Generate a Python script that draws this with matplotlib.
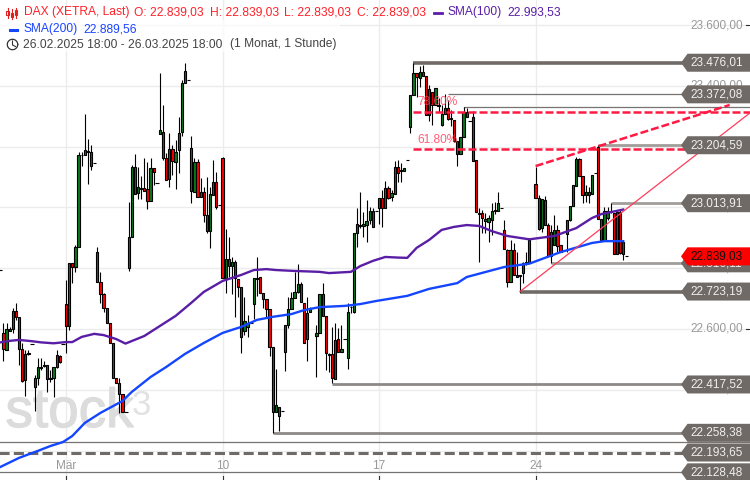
import matplotlib
matplotlib.use("Agg")
import matplotlib.pyplot as plt
import matplotlib.patheffects as pe
from matplotlib.patches import Polygon, Circle, Rectangle
from matplotlib.lines import Line2D
import numpy as np

plt.rcParams['font.family'] = ['Liberation Sans', 'DejaVu Sans']
n = float('nan')

# candle data, one entry per hourly slot 0..200 (price units)
highs = [22794,
 22620,22620,22607,22669,22686,22640,22554,22531,22531,22551,
 22449,22505,22505,22495,22482,22465,22475,22531,22514,22551,
 22761,22817,22817,22876,23182,23182,23306,23225,23205,23145,
 22869,22788,22719,22669,22619,22553,22440,22438,22386,22326,
 23019,23140,23176,23134,23104,23162,23150,23162,23129,23079,
 23441,23337,23178,23244,23205,23222,23296,23419,23474,23418,
 23235,23162,23159,23096,23068,23101,23066,23156,23116,23007,
 23167,22929,22902,22838,22827,22764,22737,22706,22646,22619,
 22769,22836,22770,22717,22698,22665,22540,22467,22344,22329,
 22613,22704,22723,22789,22814,22755,22685,22706,22673,n,
 22613,22714,22752,22643,22521,22608,22620,22602,22613,22567,
 22686,22676,22915,22999,23050,22986,23024,23002,22998,22988,
 23032,23057,23087,23070,23057,23153,23156,23145,23129,23155,
 23370,23476,23441,23465,23469,23433,23403,23381,23392,23359,
 23337,23372,23353,23321,23288,23219,23233,23331,23327,23285,
 23317,23156,22997,22992,22982,22975,23014,23019,23051,22998,
 22959,22863,22893,22883,22854,22778,22821,22854,22899,n,
 23134,23041,23028,23038,22949,22942,22975,22942,22876,n,
 22959,23005,23074,23166,23163,23104,23074,23068,23107,23112,
 23205,22961,23000,23000,23014,22981,22988,22995,22887,22839]
body_tops = [22794,
 22586,22599,22600,22659,22659,22640,22534,22518,22522,22551,
 22439,22475,22475,22482,22482,22440,22475,22514,22511,22551,
 22682,22816,22817,22869,23172,23172,23188,23186,23181,23145,
 22852,22756,22714,22668,22619,22553,22440,22421,22386,22326,
 22902,23132,23134,23066,23065,23063,23060,23129,23129,23079,
 23254,23249,23162,23191,23191,23183,23244,23408,23448,23418,
 23194,23148,23148,23050,23052,22976,23044,23083,23083,23007,
 23162,22829,22829,22819,22819,22764,22737,22626,22619,22619,
 22769,22769,22770,22717,22698,22665,22540,22351,22344,22329,
 22612,22665,22703,22721,22748,22748,22685,22652,22666,n,
 22586,22714,22714,22643,22518,22517,22564,22566,22533,22567,
 22657,22674,22915,22944,22942,22944,22955,22988,22988,22988,
 23032,23032,23063,23063,23046,23132,23132,23123,23129,23155,
 23370,23441,23441,23445,23445,23433,23389,23381,23392,23337,
 23306,23326,23326,23294,23288,23219,23233,23315,23315,23285,
 23296,23156,22983,22981,22962,22964,22988,22992,23014,22998,
 22926,22860,22860,22860,22778,22777,22816,22819,22893,n,
 23077,23030,23028,23024,22942,22920,22926,22926,22876,n,
 22959,23005,23074,23158,23158,23104,23050,23050,23107,23112,
 23200,22961,22988,22988,22988,22981,22986,22986,22887,22839]
body_bottoms = [22794,
 22533,22531,22595,22600,22640,22534,22429,22432,22519,22551,
 22409,22439,22472,22478,22436,22436,22439,22475,22491,22551,
 22610,22610,22804,22805,22869,23171,23172,23181,23137,23145,
 22756,22714,22668,22619,22553,22440,22421,22386,22328,22326,
 22802,22904,23044,23046,23062,23054,23021,23022,23117,23079,
 23243,23162,23089,23092,23153,23150,23188,23249,23408,23418,
 23055,23052,23035,23035,22976,22923,22923,23042,23000,23007,
 22769,22769,22807,22807,22769,22739,22575,22594,22606,22619,
 22682,22766,22717,22698,22665,22540,22328,22328,22315,22329,
 22525,22612,22665,22703,22721,22690,22555,22566,22657,n,
 22576,22586,22643,22522,22515,22440,22435,22523,22523,22567,
 22504,22671,22657,22915,22938,22940,22942,22959,22937,22988,
 22997,22999,22999,23032,23033,23045,23112,23119,23120,23155,
 23266,23370,23428,23427,23432,23304,23304,23337,23337,23335,
 23271,23306,23290,23292,23219,23175,23175,23233,23298,23285,
 23154,22986,22978,22964,22955,22953,22959,22988,22989,22998,
 22862,22756,22756,22778,22772,22774,22783,22814,22818,n,
 23030,22929,22931,22942,22840,22840,22876,22874,22854,n,
 22912,22959,23005,23070,23104,23041,23041,23041,23044,23112,
 22961,22893,22893,22965,22986,22847,22847,22850,22847,22839]
lows = [22794,
 22495,22531,22593,22587,22630,22482,22426,22380,22514,22551,
 22330,22416,22465,22475,22393,22426,22376,22472,22488,22551,
 22521,22597,22751,22788,22869,23136,23172,23076,23123,23145,
 22756,22686,22656,22619,22553,22440,22421,22324,22328,22326,
 22791,22904,23044,23028,23027,23054,22994,23022,23074,23079,
 23243,23155,23089,23068,23107,23061,23112,23235,23408,23418,
 23016,23052,23035,23035,22953,22917,22866,23042,22996,23007,
 22769,22718,22772,22715,22638,22706,22522,22580,22575,22619,
 22633,22709,22717,22669,22635,22511,22258,22328,22264,22329,
 22462,22603,22665,22701,22718,22690,22555,22496,22657,n,
 22443,22586,22643,22465,22460,22423,22435,22523,22523,22567,
 22467,22653,22653,22871,22932,22904,22887,22945,22937,22988,
 22945,22937,22999,23028,23021,23045,23085,23083,23120,23155,
 23244,23370,23363,23396,23432,23304,23284,23271,23337,23314,
 23269,23306,23288,23268,23216,23137,23175,23233,23298,23285,
 23154,22986,22821,22915,22917,22887,22909,22978,22989,22998,
 22862,22739,22756,22778,22772,22723,22752,22811,22818,n,
 23030,22926,22920,22942,22840,22816,22876,22849,22854,n,
 22854,22956,23005,23070,23104,23014,23019,23016,23044,23112,
 22961,22893,22893,22959,22980,22847,22847,22847,22827,22839]
directions = ("d"
 "rgggrrrggd" "ggggrgggrd" "rgrgggggrd" "rrrrrrrrrd" "ggrggrrgrd"
 "grrgrggggd" "rgrgrrggrd" "rgrgrrrggd" "ggrrrrrgrd" "gggggrrggd"
 "ggrrgrgrgd" "gggggggggd" "grgrggrggd" "ggrgrrgrgg" "ggrgrrggrd"
 "rrgrgggrgd" "rrgrrggggd" "rrgrrggrrd" "ggggrrgrgd" "rrgggrgrrd")

sma100_slots = [0,3,6,10,13,17,21,23,26,30,33,37,40,46,51,56,61,65,71,77,81,85,88,94,102,105,112,115,119,123,127,130,133,137,141,145,149,153,157,162,169,177,184,189,192,199]
sma100_vals = [22556,22561,22564,22560,22556,22553,22557,22557,22574,22584,22580,22567,22552,22577,22610,22643,22686,22722,22758,22778,22794,22797,22794,22791,22788,22784,22788,22807,22824,22837,22835,22834,22867,22893,22926,22936,22942,22939,22922,22906,22895,22906,22932,22965,22978,22993]
sma200_slots = [0,6,12,16,20,23,27,32,39,42,48,53,59,65,71,77,82,87,93,97,102,110,115,120,130,137,146,149,161,169,179,189,193,199]
sma200_vals = [22146,22176,22199,22215,22228,22248,22291,22324,22363,22393,22442,22475,22518,22554,22587,22607,22630,22640,22649,22662,22672,22676,22682,22692,22709,22732,22751,22771,22804,22815,22853,22883,22889,22889]

y_ticks = [23600,23400,23200,23000,22800,22600,22400,22200]
y_tick_labels = ["23.600,00","23.400,00","23.200,00","23.000,00","22.800,00","22.600,00","22.400,00","22.200,00"]
x_ticks = [21,71,121,171]
x_tick_labels = ["Mär","10","17","24"]

tag_levels = [23476.01,23372.08,23204.59,23013.91,22816.11,22723.19,22417.52,22258.38,22193.65,22128.48]
tag_labels = ["23.476,01","23.372,08","23.204,59","23.013,91","22.816,11","22.723,19","22.417,52","22.258,38","22.193,65","22.128,48"]
tag_starts = [132,143,191,195,176,166,106,87,-1,-1]
tag_widths = [2.6,0.9,2.0,2.0,2.0,2.6,2.0,2.0,2.2,0.9]
tag_colors = ["#6f6a66","#777370","#a09d9a","#a09d9a","#a09d9a","#6f6a66","#8c8986","#8c8986","#6f6a66","#777370"]
plain_levels = [23331, 22228]
plain_starts = [148, -1]
fib_levels = [23315, 23191]
fib_labels = ["78.60%", "61.80%"]
fib_start = 132
last_price = 22839.03
last_label = "22.839,03"
channel_slots = [171, 233]
channel_vals = [23136, 23337]
trend_slots = [166, 240]
trend_vals = [22723, 23315]

GREEN, RED, GREY = "#0a7a1e", "#ff0000", "#6f6a66"
PX = 3.29
fig = plt.figure(figsize=(7.5, 4.8), dpi=100)
ax = fig.add_axes([0, 0, 1, 1])
ax.set_xlim(-0.096, 239.5)
ax.set_ylim(22103.2, 23682.4)
ax.axis("off")
yt = ax.get_yaxis_transform()
xt = ax.get_xaxis_transform()
fx = lambda px: px / 750.0
fy = lambda px: 1 - px / 480.0
F = fig.transFigure

# grid
for v in y_ticks:
    ax.axhline(v, color="#ececec", lw=1.0, zorder=0)
for v in x_ticks:
    ax.axvline(v, color="#ececec", lw=1.0, zorder=0)
    ax.plot([v, v], [0, 4/480], transform=xt, color="#333333", lw=0.8, zorder=1)

# watermark
wm = [pe.withStroke(linewidth=0.9, foreground="#dcdcdc")]
ax.text(fx(5.5), fy(427), "stock", transform=F, fontsize=39.5, color="#dcdcdc", zorder=1, va="baseline", ha="left", path_effects=wm)
ax.text(fx(131.5), fy(415), "3", transform=F, fontsize=25, color="#e2e2e2", zorder=1, va="baseline", ha="left")

# level lines
for v, s, w, c in zip(tag_levels, tag_starts, tag_widths, tag_colors):
    ax.plot([s, 225], [v, v], color=c, lw=w, zorder=2,
            ls=(0, (3.3, 1.4)) if v == 22193.65 else "-", solid_capstyle="butt")
for v, s in zip(plain_levels, plain_starts):
    ax.plot([s, 240], [v, v], color="#777370", lw=0.9, zorder=2)

# candles
for s, (h, t, b, l, d) in enumerate(zip(highs, body_tops, body_bottoms, lows, directions)):
    if np.isnan(h):
        continue
    ax.plot([s, s], [l, h], color="black", lw=0.8, zorder=3, solid_capstyle="butt")
    if d == "d":
        ax.plot([s - 0.45, s + 0.65], [t, t], color="black", lw=0.8, zorder=3, solid_capstyle="butt")
    else:
        ax.bar(s, t - b, bottom=b, width=0.72, color=GREEN if d == "g" else RED,
               edgecolor="black", linewidth=0.8, zorder=3.2)

# moving averages
ax.plot(sma100_slots, sma100_vals, color="#5a1ea6", lw=1.7, zorder=4)
ax.plot(sma200_slots, sma200_vals, color="#1446ff", lw=1.7, zorder=4.1)

# fibonacci levels and trend lines
for v, t in zip(fib_levels, fib_labels):
    ax.plot([fib_start, 240], [v, v], color="#ff1a44", lw=1.8, ls=(0, (3.2, 1.2)), zorder=5)
    ax.text(fib_start + 1.3, v + 9.5 * PX, t, color="#ff4060", alpha=0.85, fontsize=8.6, va="center", ha="left", zorder=5)
ax.plot(channel_slots, channel_vals, color="#ff1a44", lw=1.8, ls=(0, (3.2, 1.2)), zorder=5)
ax.plot(trend_slots, trend_vals, color="#ff3c5c", lw=0.9, zorder=5)

# y tick labels
for v, t in zip(y_ticks, y_tick_labels):
    ax.text(fx(690.5), v, t, transform=yt, color="#999999", fontsize=8.5, va="center", ha="left", zorder=6)
    ax.plot([fx(746), 1], [v, v], transform=yt, color="#333333", lw=0.8, zorder=6)
for v, t in zip(x_ticks, x_tick_labels):
    ax.text(v, fy(469), t, transform=xt, color="#999999", fontsize=8.5, va="baseline", ha="center", zorder=6)

# tags
def tag(v, label, fc, tc, z):
    h = 9 * PX
    pts = [(fx(681), v), (fx(687.5), v + h), (1.0, v + h), (1.0, v - h), (fx(687.5), v - h)]
    ax.add_patch(Polygon(pts, closed=True, transform=yt, facecolor=fc, edgecolor="none", zorder=z))
    ax.text(fx(690), v, label, transform=yt, color=tc, fontsize=8.5, va="center", ha="left", zorder=z + 0.1)

for i, (v, t) in enumerate(zip(tag_levels, tag_labels)):
    tag(v, t, GREY, "#f0efee", 7 + i * 0.01)
tag(last_price, last_label, "#ff0000", "#111111", 8)

# legend rows
def label(x, y, s, c):
    ax.text(fx(x), fy(y), s, transform=F, color=c, fontsize=8.65, va="center", ha="left", zorder=9)

RTXT, PTXT, BTXT, DTXT = "#ff2028", "#5a1ea6", "#1a44ff", "#444444"
ax.add_patch(Rectangle((fx(0), fy(52)), fx(340), 32/480, transform=F, facecolor="white", alpha=0.7, edgecolor="none", zorder=8.5))
label(23.5, 12.5, "DAX (XETRA, Last)", RTXT)
label(134, 12.5, "O: 22.839,03", RTXT)
label(209.5, 12.5, "H: 22.839,03", RTXT)
label(284.5, 12.5, "L: 22.839,03", RTXT)
label(357, 12.5, "C: 22.839,03", RTXT)
label(447.5, 12.5, "SMA(100)", PTXT)
label(507.5, 12.5, "22.993,53", PTXT)
label(23.5, 29, "SMA(200)", BTXT)
label(83, 29, "22.889,56", BTXT)
label(23, 44.5, "26.02.2025 18:00 - 26.03.2025 18:00", DTXT)
label(229.5, 44.5, "(1 Monat, 1 Stunde)", DTXT)
fig.add_artist(Line2D([fx(434), fx(441.5)], [fy(13), fy(13)], color="#5a1ea6", lw=2.0))
fig.add_artist(Line2D([fx(9.5), fx(17)], [fy(29.5), fy(29.5)], color="#1446ff", lw=2.2))

# candle icon
for cx, top, bot, lo, hi in [(7.5, 11, 15, 8, 18), (12, 13, 17, 9, 19), (16.2, 10, 15, 8, 18)]:
    fig.add_artist(Line2D([fx(cx), fx(cx)], [fy(hi), fy(lo)], color="#e02020", lw=0.8))
    fig.add_artist(Rectangle((fx(cx - 1.2), fy(bot)), 2.4/750, (bot - top)/480, transform=F,
                             facecolor="white", edgecolor="#e02020", lw=0.8))

# clock icon
fig.add_artist(Line2D([fx(12.5), fx(12.5), fx(15.5)], [fy(41), fy(45), fy(46.5)], color="#333333", lw=0.8))
theta = np.linspace(0, 2 * np.pi, 60)
fig.add_artist(Line2D(fx(12.5 + 5.2 * np.cos(theta)), fy(44.5 + 5.2 * np.sin(theta)), color="#333333", lw=0.9))

fig.savefig("out.png", dpi=100)
